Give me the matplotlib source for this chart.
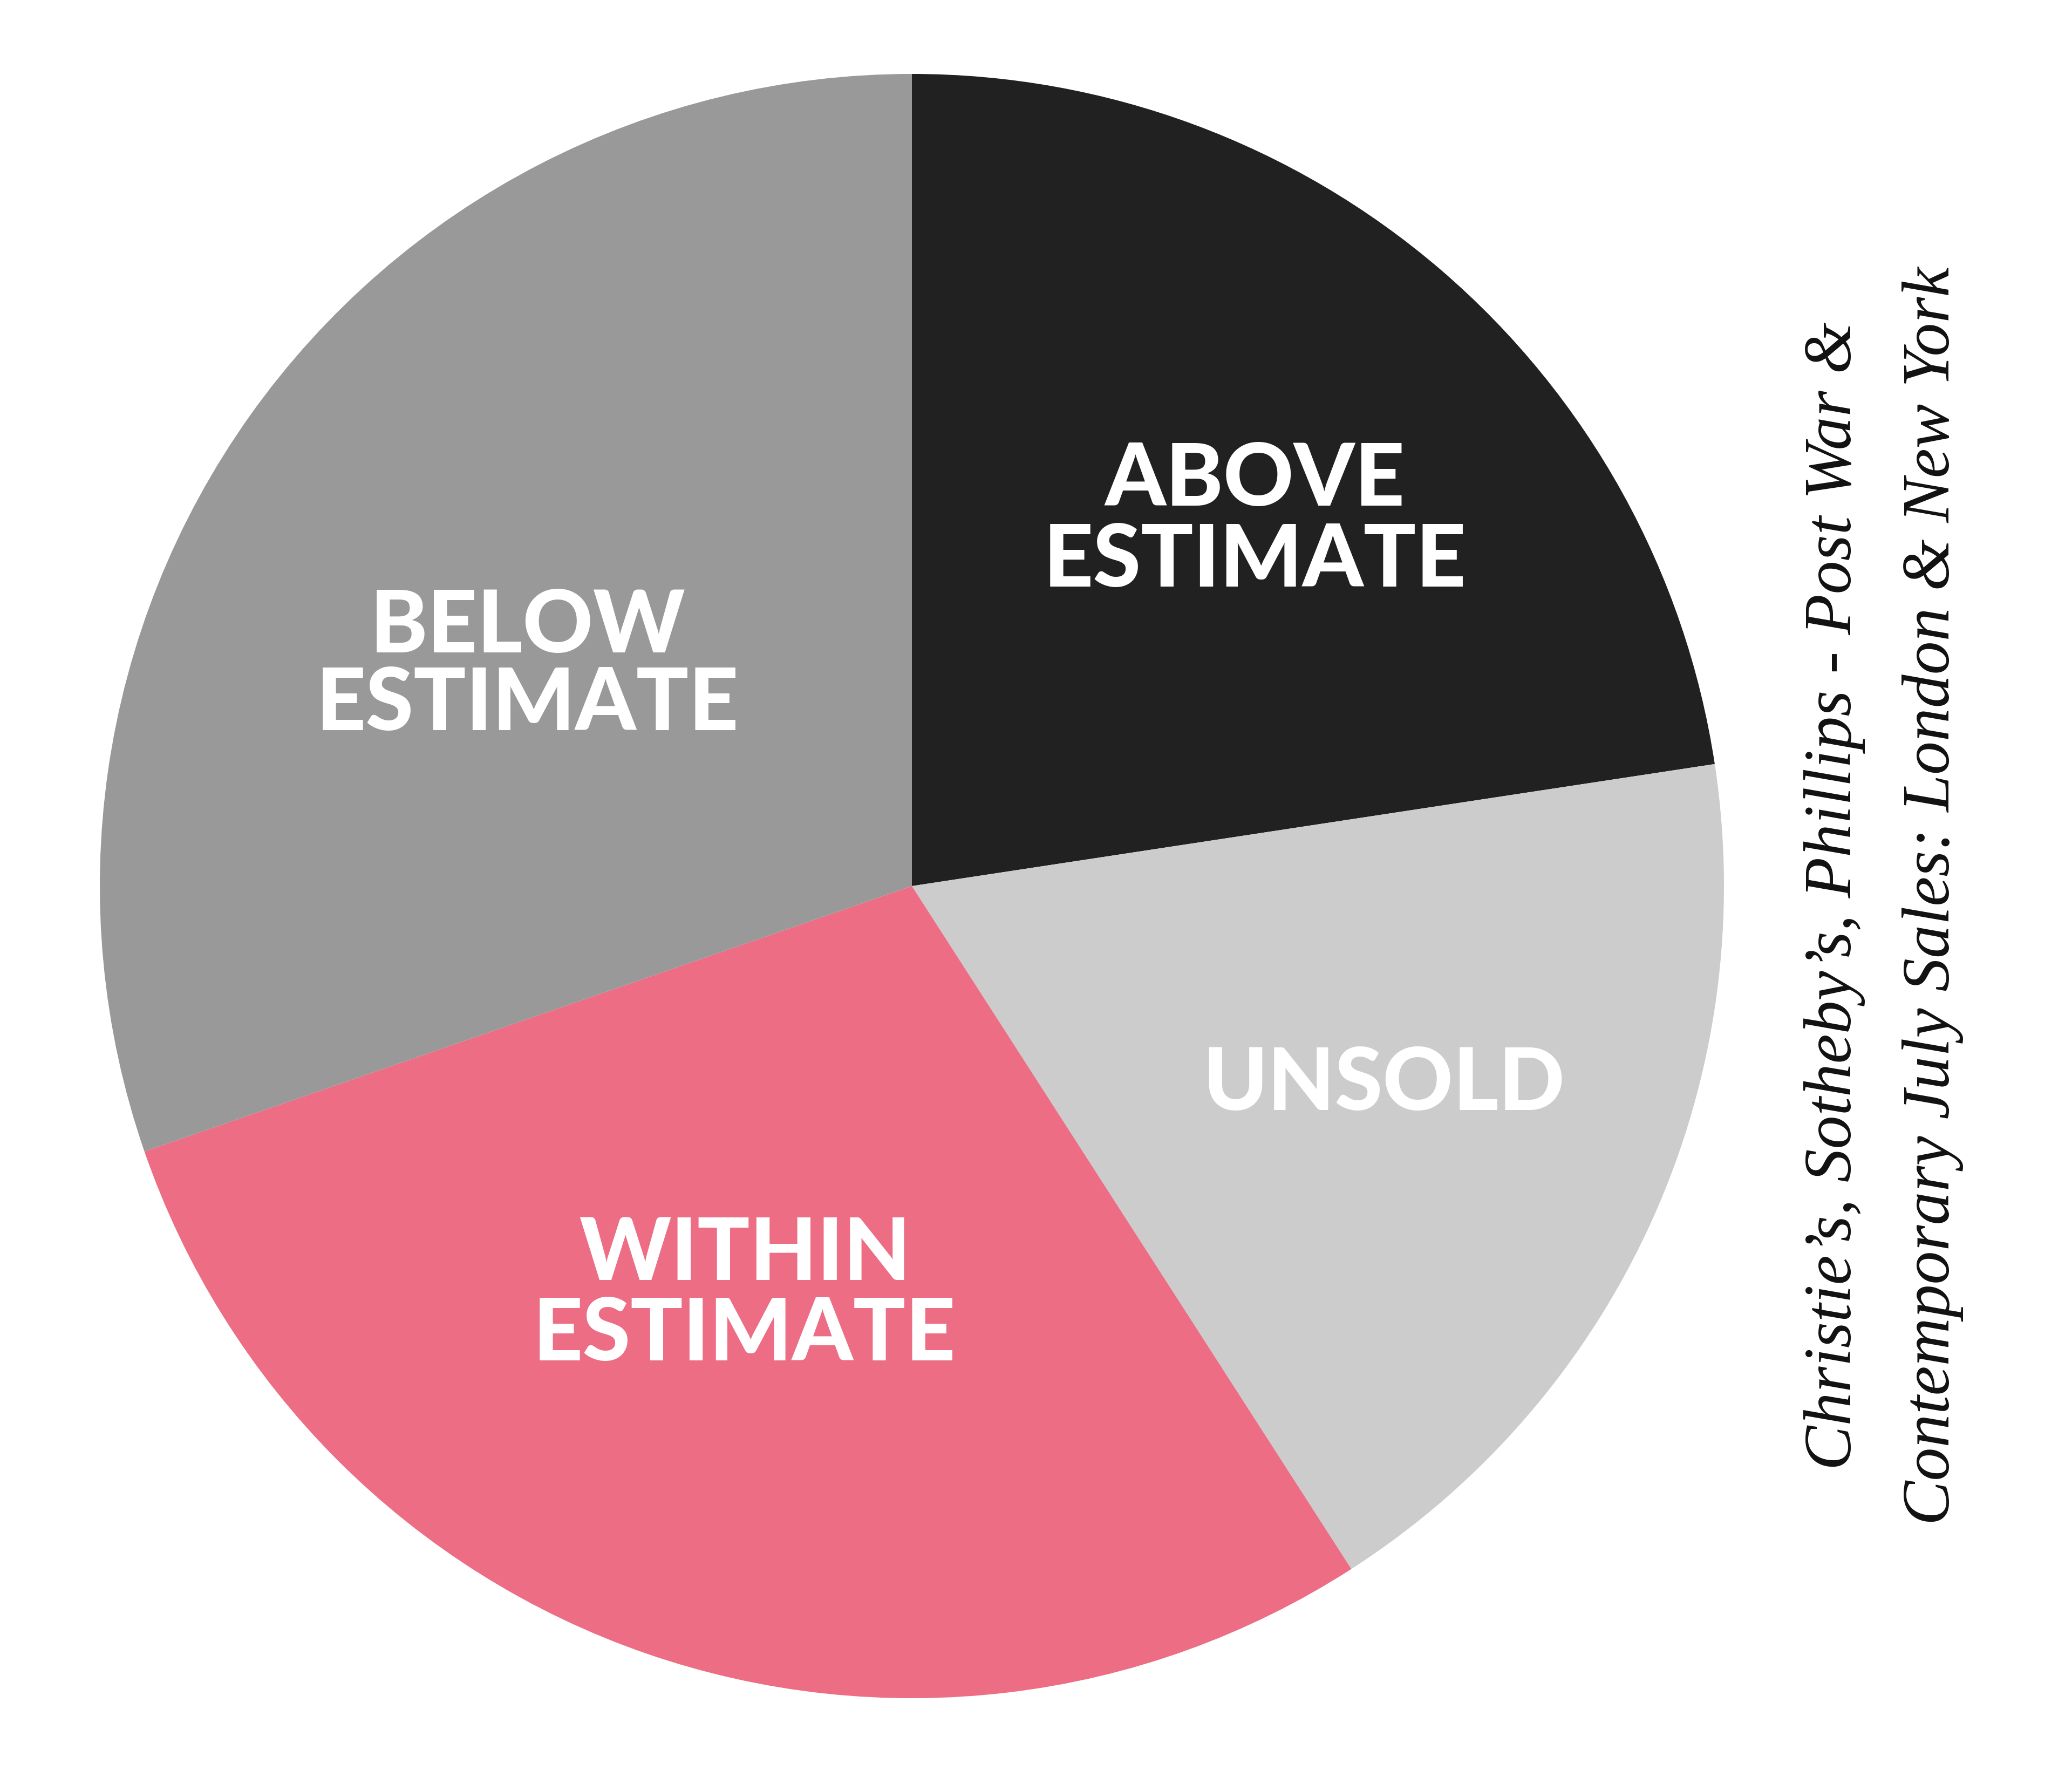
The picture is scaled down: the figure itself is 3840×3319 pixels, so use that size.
import matplotlib
matplotlib.use('Agg')
import matplotlib.pyplot as plt

# share of lots (clockwise from 12 o'clock)
labels = ['ABOVE\nESTIMATE', 'UNSOLD', 'WITHIN\nESTIMATE', 'BELOW\nESTIMATE']
shares = [22.6, 18.3, 28.8, 30.3]
colors = ['#212121', '#cccccc', '#ec6d84', '#999999']

source_lines = ['Christie\u2019s, Sotheby\u2019s, Phillips - Post War &',
                'Contemporary July Sales: London & New York']

W, H = 3840, 3319
fig = plt.figure(figsize=(W / 100, H / 100), dpi=100)
ax = fig.add_axes([0, 0, 1, 1])

cx, cy, r = 1690, H - 1642, 1505
ax.pie(shares, colors=colors, startangle=90, counterclock=False,
       center=(cx, cy), radius=r, wedgeprops=dict(linewidth=0))
ax.set_xlim(0, W)
ax.set_ylim(0, H)
ax.set_aspect('equal')
ax.axis('off')

# label positions in image pixels (x, y of each line centre)
label_pos = [(2326, [890, 1040]), (2565, [2010]), (1380, [2326, 2474]), (978, [1162, 1306])]
for lab, (x, ys) in zip(labels, label_pos):
    for line, y in zip(lab.split('\n'), ys):
        ax.text(x, H - y, line, ha='center', va='center', color='white',
                fontsize=116, fontweight='black',
                family=['Lato Black', 'Lato Heavy', 'Lato', 'DejaVu Sans'])

for line, x in zip(source_lines, [3400, 3582]):
    ax.text(x, H - 1660, line, rotation=90, ha='center', va='center',
            fontsize=89, style='italic', family=['Liberation Serif', 'DejaVu Serif'],
            color='#111111')

fig.savefig('out.png', dpi=100, facecolor='white')
